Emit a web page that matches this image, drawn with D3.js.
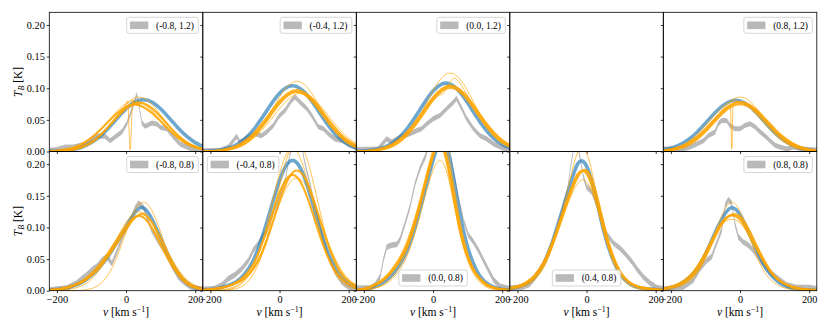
<!DOCTYPE html>
<html><head><meta charset="utf-8">
<script src="https://cdn.jsdelivr.net/npm/d3@7"></script>
<style>body{margin:0;background:#fff}svg{display:block}</style>
</head><body><svg id="c" width="830" height="332"></svg>
<script>
// ---------------- DATA ----------------
const V = [-225,-200,-175,-150,-125,-100,-75,-50,-25,0,25,50,75,100,125,150,175,200,225];
const xTicks = [-200, 0, 200];
const yTicks = [0, 0.05, 0.10, 0.15, 0.20];
const labels = ["(-0.8, 1.2)","(-0.4, 1.2)","(0.0, 1.2)",null,"(0.8, 1.2)","(-0.8, 0.8)","(-0.4, 0.8)","(0.0, 0.8)","(0.4, 0.8)","(0.8, 0.8)"];

// observed band centres [v, T] and half widths
const band_T1 = [[-222,0.002],[-200,0.003],[-176,0.007],[-152,0.007],[-123,0.011],[-104,0.017],[-85,0.024],[-61,0.024],[-46,0.017],[-32,0.023],[-12,0.031],[2,0.044],[16,0.065],[31,0.09],[38,0.07],[46,0.045],[55,0.04],[75,0.045],[90,0.043],[100,0.038],[118,0.036],[137,0.023],[156,0.012],[176,0.007],[195,0.003],[222,0.002]];
const band_T2 = [[-222,0.001],[-170,0.002],[-148,0.007],[-124,0.024],[-115,0.015],[-109,0.016],[-90,0.023],[-71,0.028],[-52,0.025],[-37,0.031],[-18,0.041],[-3,0.055],[16,0.065],[35,0.081],[45,0.086],[59,0.078],[79,0.068],[93,0.057],[112,0.039],[127,0.036],[141,0.028],[160,0.02],[184,0.017],[199,0.012],[222,0.006]];
const band_T3 = [[-222,0.003],[-160,0.004],[-134,0.02],[-120,0.015],[-95,0.023],[-67,0.028],[-47,0.033],[-33,0.036],[-18,0.044],[1,0.052],[20,0.057],[40,0.068],[59,0.078],[68,0.084],[83,0.068],[97,0.052],[117,0.036],[136,0.025],[155,0.02],[175,0.012],[194,0.007],[213,0.003],[222,0.002]];
const band_T5 = [[-222,0.004],[-165,0.004],[-145,0.007],[-125,0.012],[-106,0.017],[-92,0.025],[-72,0.031],[-63,0.044],[-53,0.049],[-39,0.049],[-29,0.041],[-15,0.036],[0,0.036],[14,0.041],[29,0.044],[43,0.039],[58,0.031],[72,0.025],[87,0.017],[101,0.01],[115,0.007],[135,0.004],[154,0.007],[183,0.004],[222,0.002]];
const band_B1 = [[-222,0.001],[-172,0.004],[-143,0.012],[-128,0.019],[-114,0.025],[-95,0.035],[-85,0.038],[-70,0.048],[-56,0.054],[-41,0.043],[-27,0.061],[-8,0.088],[12,0.109],[26,0.13],[36,0.138],[50,0.132],[60,0.117],[74,0.096],[94,0.077],[113,0.061],[132,0.04],[151,0.022],[171,0.012],[190,0.005],[222,0.002]];
const band_B2 = [[-222,0.002],[-190,0.003],[-167,0.009],[-148,0.019],[-129,0.025],[-109,0.035],[-90,0.048],[-76,0.064],[-61,0.075],[-47,0.088],[-37,0.093],[-23,0.117],[-3,0.143],[16,0.174],[30,0.216],[45,0.245],[60,0.24],[74,0.2],[88,0.169],[103,0.132],[122,0.09],[141,0.054],[160,0.03],[180,0.014],[199,0.006],[222,0.002]];
const band_B3 = [[-222,0.004],[-182,0.004],[-168,0.009],[-153,0.022],[-144,0.048],[-134,0.069],[-120,0.072],[-105,0.073],[-95,0.082],[-81,0.106],[-67,0.132],[-52,0.169],[-38,0.193],[-23,0.211],[0,0.25],[25,0.26],[49,0.222],[59,0.19],[73,0.148],[88,0.111],[102,0.088],[117,0.077],[131,0.064],[146,0.048],[160,0.033],[175,0.017],[194,0.007],[213,0.004],[222,0.003]];
const band_B4 = [[-222,0.004],[-190,0.005],[-165,0.01],[-150,0.02],[-125,0.042],[-100,0.075],[-75,0.118],[-55,0.16],[-45,0.2],[-35,0.232],[-28,0.235],[-19,0.211],[-9,0.18],[0,0.164],[15,0.156],[29,0.138],[44,0.117],[58,0.09],[78,0.075],[97,0.067],[111,0.059],[131,0.046],[145,0.035],[164,0.022],[184,0.012],[203,0.005],[222,0.003]];
const band_B5 = [[-222,0.002],[-164,0.006],[-150,0.011],[-135,0.017],[-116,0.035],[-96,0.048],[-82,0.054],[-68,0.075],[-53,0.096],[-43,0.135],[-34,0.144],[-24,0.138],[-15,0.106],[-5,0.085],[9,0.077],[24,0.072],[38,0.064],[58,0.048],[77,0.035],[96,0.025],[115,0.017],[135,0.009],[164,0.005],[202,0.005],[222,0.003]];
const bandHalf = [0.004,0.004,0.004,0,0.004,0.0045,0.0045,0.0045,0.0045,0.0045];

// model curves sampled on V
const blue_T1 = [0.0002,0.0006,0.0016,0.0036,0.0075,0.0141,0.0242,0.0376,0.0528,0.0675,0.0781,0.082,0.0781,0.0675,0.0528,0.0376,0.0242,0.0141,0.0075];
const orA_T1 = [0.0002,0.0006,0.0015,0.0037,0.0079,0.0149,0.0257,0.0397,0.0549,0.0681,0.076,0.076,0.0681,0.0549,0.0397,0.0257,0.0149,0.0079,0.0037];
const orB_T1 = [0.0006,0.0014,0.0033,0.0067,0.0127,0.0218,0.0339,0.0477,0.0609,0.0704,0.074,0.0704,0.0609,0.0477,0.0339,0.0218,0.0127,0.0067,0.0033];
const thin1_T1 = [0.0001,0.0003,0.0009,0.0024,0.0058,0.0125,0.0237,0.0394,0.0577,0.0745,0.0846,0.0846,0.0745,0.0577,0.0394,0.0237,0.0125,0.0058,0.0024];
const thin2_T1 = [0.0004,0.001,0.0025,0.0057,0.0114,0.0206,0.0337,0.0491,0.0644,0.0758,0.08,0.0758,0.0644,0.0491,0.0337,0.0206,0.0114,0.0057,0.0025];
const notch_T1 = [[-225,0.0002],[-200,0.0006],[-175,0.0015],[-150,0.0037],[-125,0.0079],[-100,0.0149],[-75,0.0257],[-50,0.0397],[-25,0.0549],[-5,0.066],[5,0.08],[9,0.03],[12,0.003],[15,0.03],[19,0.082],[25,0.074],[50,0.076],[75,0.0681],[100,0.0549],[125,0.0397],[150,0.0257],[175,0.0149],[200,0.0079],[225,0.0037]];

const blue_T2 = [0.0003,0.0008,0.0021,0.005,0.0106,0.0202,0.0347,0.0537,0.0742,0.092,0.1026,0.1026,0.092,0.0742,0.0537,0.0347,0.0202,0.0106,0.005];
const orA_T2 = [0.0003,0.0007,0.0018,0.0043,0.0088,0.0167,0.0286,0.0444,0.0625,0.0798,0.0923,0.097,0.0923,0.0798,0.0625,0.0444,0.0286,0.0167,0.0088];
const orB_T2 = [0.0001,0.0004,0.0012,0.0029,0.0067,0.0133,0.0243,0.0396,0.0577,0.0757,0.089,0.094,0.089,0.0757,0.0577,0.0396,0.0243,0.0133,0.0067];
const thin1_T2 = [0,0.0002,0.0006,0.0019,0.0049,0.0112,0.0225,0.04,0.0625,0.086,0.1041,0.111,0.1041,0.086,0.0625,0.04,0.0225,0.0112,0.0049];
const thin2_T2 = [0.0002,0.0004,0.0011,0.0027,0.0059,0.0117,0.021,0.0342,0.0506,0.0678,0.0824,0.0909,0.0909,0.0824,0.0678,0.0506,0.0342,0.021,0.0117];

const blue_T3 = [0.0003,0.0008,0.0022,0.0052,0.011,0.021,0.0361,0.0557,0.077,0.0956,0.1066,0.1066,0.0956,0.077,0.0557,0.0361,0.021,0.011,0.0052];
const orA_T3 = [0.0003,0.0008,0.002,0.0046,0.0095,0.0179,0.0307,0.0476,0.067,0.0856,0.099,0.104,0.099,0.0856,0.067,0.0476,0.0307,0.0179,0.0095];
const orB_T3 = [0.0001,0.0005,0.0013,0.0031,0.0072,0.0143,0.0261,0.0425,0.062,0.0813,0.0956,0.101,0.0956,0.0813,0.062,0.0425,0.0261,0.0143,0.0072];
const thin1_T3 = [0,0.0002,0.0007,0.0021,0.0055,0.0125,0.0252,0.0446,0.0698,0.0961,0.1163,0.124,0.1163,0.0961,0.0698,0.0446,0.0252,0.0125,0.0055];
const shoulder_T3 = [[-225,0.0003],[-175,0.002],[-150,0.0046],[-125,0.0095],[-100,0.018],[-75,0.031],[-50,0.048],[-25,0.066],[0,0.08],[15,0.088],[30,0.092],[45,0.105],[60,0.116],[75,0.11],[100,0.088],[125,0.066],[150,0.046],[175,0.029],[200,0.016],[225,0.008]];

const blue_T5 = [0.0023,0.0052,0.0103,0.0185,0.0301,0.0446,0.0597,0.0726,0.08,0.08,0.0726,0.0597,0.0446,0.0301,0.0185,0.0103,0.0052,0.0023,0.001];
const orA_T5 = [0.0015,0.0034,0.0071,0.0134,0.023,0.0357,0.0502,0.0642,0.0743,0.078,0.0743,0.0642,0.0502,0.0357,0.023,0.0134,0.0071,0.0034,0.0015];
const orB_T5 = [0.0009,0.0023,0.0053,0.0107,0.0194,0.0316,0.0461,0.0604,0.071,0.075,0.071,0.0604,0.0461,0.0316,0.0194,0.0107,0.0053,0.0023,0.0009];
const thin1_T5 = [0.0005,0.0015,0.0038,0.0087,0.0175,0.031,0.0484,0.0667,0.0807,0.086,0.0807,0.0667,0.0484,0.031,0.0175,0.0087,0.0038,0.0015,0.0005];
const thin2_T5 = [0.0016,0.0038,0.0082,0.0155,0.0267,0.0413,0.057,0.0708,0.079,0.079,0.0708,0.057,0.0413,0.0267,0.0155,0.0082,0.0038,0.0016,0.0006];
const notch_T5 = [[-225,0.0015],[-200,0.0034],[-175,0.0071],[-150,0.0134],[-125,0.023],[-100,0.0357],[-75,0.0502],[-50,0.0642],[-35,0.071],[-28,0.074],[-24,0.004],[-20,0.075],[0,0.078],[25,0.0743],[50,0.0642],[75,0.0502],[100,0.0357],[125,0.023],[150,0.0134],[175,0.0071],[200,0.0034],[225,0.0015]];

const blue_B1 = [0.001,0.002,0.004,0.008,0.014,0.024,0.038,0.056,0.078,0.101,0.123,0.131,0.113,0.083,0.053,0.028,0.013,0.005,0.002];
const orA_B1 = [0.001,0.002,0.004,0.008,0.014,0.024,0.038,0.056,0.076,0.097,0.115,0.121,0.108,0.082,0.054,0.03,0.014,0.006,0.002];
const orB_B1 = [0.001,0.002,0.005,0.009,0.016,0.027,0.042,0.061,0.082,0.102,0.116,0.116,0.099,0.073,0.047,0.026,0.012,0.005,0.002];
const thin1_B1 = [0,0,0,0.0002,0.0009,0.0034,0.0106,0.0269,0.0553,0.0927,0.1263,0.14,0.1263,0.0927,0.0553,0.0269,0.0106,0.0034,0.0009];
const thin2_B1 = [0.0001,0.0004,0.0013,0.0035,0.0085,0.0181,0.0344,0.0573,0.0839,0.1083,0.123,0.123,0.1083,0.0839,0.0573,0.0344,0.0181,0.0085,0.0035];

const blue_B2 = [0.001,0.002,0.004,0.008,0.014,0.027,0.049,0.085,0.13,0.1745,0.2023,0.2023,0.1745,0.1298,0.0832,0.047,0.024,0.011,0.005];
const orA_B2 = [0.001,0.002,0.004,0.007,0.012,0.02,0.035,0.061,0.099,0.1414,0.1765,0.19,0.1765,0.1414,0.0977,0.059,0.031,0.015,0.007];
const orB_B2 = [0.001,0.002,0.004,0.007,0.013,0.024,0.043,0.075,0.1153,0.155,0.1797,0.1797,0.155,0.1153,0.0739,0.042,0.021,0.01,0.004];
const thin1_B2 = [0,0,0.0002,0.0009,0.0033,0.0103,0.0268,0.0585,0.1076,0.1661,0.2155,0.235,0.2155,0.1661,0.1076,0.0585,0.0268,0.0103,0.0033];
const thin2_B2 = [0,0,0.0004,0.0017,0.0059,0.0164,0.0387,0.0776,0.1307,0.1852,0.2203,0.2203,0.1852,0.1307,0.0776,0.0387,0.0164,0.0059,0.0017];
const thin3_B2 = [0.0001,0.0003,0.001,0.003,0.0078,0.018,0.0361,0.0641,0.1002,0.138,0.167,0.178,0.167,0.138,0.1002,0.0641,0.0361,0.018,0.0078];

const blue_B3 = [0.001,0.002,0.005,0.011,0.021,0.038,0.064,0.104,0.155,0.206,0.236,0.204,0.129,0.069,0.033,0.014,0.006,0.002,0.001];
const orA_B3 = [0.001,0.003,0.007,0.014,0.026,0.044,0.07,0.11,0.162,0.213,0.234,0.184,0.108,0.056,0.027,0.012,0.005,0.002,0.001];
const orB_B3 = [0.001,0.003,0.008,0.016,0.029,0.048,0.076,0.117,0.168,0.216,0.229,0.175,0.102,0.052,0.025,0.011,0.005,0.002,0.001];
const thin1_B3 = [0,0.001,0.003,0.008,0.018,0.035,0.065,0.11,0.17,0.225,0.25,0.2,0.12,0.06,0.025,0.009,0.003,0.001,0];
const thin2_B3 = [0,0.001,0.003,0.007,0.015,0.03,0.055,0.095,0.145,0.19,0.205,0.165,0.098,0.048,0.02,0.007,0.002,0.001,0];

const blue_B4 = [0.003,0.006,0.011,0.022,0.042,0.075,0.118,0.163,0.201,0.197,0.152,0.094,0.051,0.024,0.011,0.005,0.003,0.002,0.001];
const orA_B4 = [0.004,0.007,0.013,0.024,0.044,0.075,0.114,0.153,0.185,0.185,0.148,0.095,0.053,0.026,0.012,0.006,0.004,0.002,0.001];
const orB_B4 = [0.003,0.006,0.011,0.021,0.04,0.07,0.108,0.148,0.18,0.19,0.16,0.105,0.058,0.028,0.013,0.006,0.003,0.002,0.001];
const thin1_B4 = [0.002,0.004,0.008,0.017,0.035,0.067,0.115,0.17,0.22,0.218,0.163,0.096,0.048,0.021,0.008,0.003,0.001,0.001,0];
const thin2_B4 = [0.004,0.008,0.014,0.026,0.046,0.074,0.108,0.143,0.17,0.172,0.142,0.096,0.056,0.029,0.014,0.007,0.004,0.002,0.001];

const blue_B5 = [0.002,0.005,0.01,0.019,0.034,0.058,0.088,0.116,0.131,0.12,0.092,0.062,0.036,0.019,0.009,0.004,0.002,0.001,0];
const orA_B5 = [0.003,0.006,0.011,0.02,0.036,0.06,0.087,0.11,0.119,0.112,0.09,0.064,0.04,0.022,0.012,0.006,0.003,0.002,0.001];
const orB_B5 = [0.002,0.005,0.009,0.017,0.031,0.054,0.082,0.107,0.12,0.117,0.097,0.069,0.043,0.023,0.012,0.006,0.003,0.001,0.001];
const thin1_B5 = [0.001,0.003,0.007,0.014,0.028,0.052,0.087,0.122,0.14,0.125,0.089,0.052,0.026,0.012,0.005,0.002,0.001,0,0];
const thin2_B5 = [0.004,0.007,0.013,0.023,0.039,0.062,0.087,0.106,0.113,0.107,0.088,0.064,0.041,0.024,0.013,0.007,0.004,0.002,0.001];

// ---------------- LAYOUT / STYLE ----------------
const FONT = '"Liberation Serif","Times New Roman",serif';
const L0 = 49.3, T0 = 12.3, PW = 153.5, PH = 139.2;
const XDOM = [-222, 222], YDOM = [0, 0.22];
const BANDC = "#808080", BANDO = 0.55;
const legendLoc = ["ur","ur","ur",null,"ur","ur","ul","lc","lc","ur"];

const onGrid = a => V.map((v, k) => [v, a[k]]);
const panels = [
  {band: band_T1, blue: [blue_T1], thick: [orA_T1, orB_T1], thin: [thin1_T1, thin2_T1], pts: [notch_T1]},
  {band: band_T2, blue: [blue_T2], thick: [orA_T2, orB_T2], thin: [thin1_T2, thin2_T2], pts: []},
  {band: band_T3, blue: [blue_T3], thick: [orA_T3, orB_T3], thin: [thin1_T3], pts: [shoulder_T3]},
  {band: null, blue: [], thick: [], thin: [], pts: []},
  {band: band_T5, blue: [blue_T5], thick: [orA_T5, orB_T5], thin: [thin1_T5, thin2_T5], pts: [notch_T5]},
  {band: band_B1, blue: [blue_B1], thick: [orA_B1, orB_B1], thin: [thin1_B1, thin2_B1], pts: []},
  {band: band_B2, blue: [blue_B2], thick: [orA_B2, orB_B2], thin: [thin1_B2, thin2_B2, thin3_B2], pts: []},
  {band: band_B3, blue: [blue_B3], thick: [orA_B3, orB_B3], thin: [thin1_B3, thin2_B3], pts: []},
  {band: band_B4, blue: [blue_B4], thick: [orA_B4, orB_B4], thin: [thin1_B4, thin2_B4], pts: []},
  {band: band_B5, blue: [blue_B5], thick: [orA_B5, orB_B5], thin: [thin1_B5, thin2_B5], pts: []}
];

const svg = d3.select("#c");
const defs = svg.append("defs");

panels.forEach((p, i) => {
  const row = Math.floor(i / 5), col = i % 5;
  const x0 = L0 + col * PW, y0 = T0 + row * PH;
  const x = d3.scaleLinear().domain(XDOM).range([0, PW]);
  const y = d3.scaleLinear().domain(YDOM).range([PH, 0]);
  const g = svg.append("g").attr("transform", `translate(${x0},${y0})`);
  defs.append("clipPath").attr("id", "cp" + i).append("rect").attr("width", PW).attr("height", PH);
  const c = g.append("g").attr("clip-path", `url(#cp${i})`);

  if (p.band) {
    const h = bandHalf[i];
    c.append("path").datum(p.band)
      .attr("d", d3.area().x(d => x(d[0])).y0(d => y(d[1] - h)).y1(d => y(d[1] + h)))
      .attr("fill", BANDC).attr("fill-opacity", BANDO);
  }
  const ln = d3.line().x(d => x(d[0])).y(d => y(d[1])).curve(d3.curveNatural);
  const lnM = d3.line().x(d => x(d[0])).y(d => y(d[1])).curve(d3.curveMonotoneX);
  p.blue.forEach(a => c.append("path").attr("d", ln(onGrid(a))).attr("fill", "none")
    .attr("stroke", "#1f77b4").attr("stroke-opacity", 0.65).attr("stroke-width", 3.6));
  p.thin.forEach(a => c.append("path").attr("d", ln(onGrid(a))).attr("fill", "none")
    .attr("stroke", "#ffa500").attr("stroke-opacity", 0.75).attr("stroke-width", 0.9));
  p.pts.forEach(a => c.append("path").attr("d", lnM(a)).attr("fill", "none")
    .attr("stroke", "#ffa500").attr("stroke-opacity", 0.75).attr("stroke-width", 0.9));
  p.thick.forEach(a => c.append("path").attr("d", ln(onGrid(a))).attr("fill", "none")
    .attr("stroke", "#ffa500").attr("stroke-opacity", 0.88).attr("stroke-width", 2.2));

  // axes
  const styleAxis = s => {
    s.select(".domain").remove();
    s.selectAll("line").attr("stroke", "#000").attr("stroke-width", 0.8);
    s.selectAll("text").attr("font-size", 10.3).attr("font-family", FONT).attr("fill", "#000");
  };
  g.append("g").call(d3.axisLeft(y).tickValues(yTicks).tickSize(2.5).tickPadding(2)
    .tickFormat(col === 0 ? d3.format(".2f") : "")).call(styleAxis);
  g.append("g").attr("transform", `translate(0,${PH})`)
    .call(d3.axisBottom(x).tickValues(xTicks).tickSize(2.5).tickPadding(2.5)
    .tickFormat(row === 1 ? d3.format("d") : "")).call(styleAxis);

  g.append("rect").attr("width", PW).attr("height", PH).attr("fill", "none")
    .attr("stroke", "#000").attr("stroke-width", 0.8);

  // legend
  if (labels[i]) {
    const lg = g.append("g");
    const t = lg.append("text").attr("font-size", 9.5).attr("font-family", FONT).attr("fill", "#000").text(labels[i]);
    const tw = t.node().getComputedTextLength();
    const bw = 29.3 + tw + 4.3, bh = 16;
    const loc = legendLoc[i];
    let bx, by;
    if (loc === "ur") { bx = PW - 4.5 - bw; by = 5; }
    else if (loc === "ul") { bx = 4.5; by = 5; }
    else { bx = (PW - bw) / 2; by = PH - 4.7 - bh; }
    lg.insert("rect", "text").attr("x", bx).attr("y", by).attr("width", bw).attr("height", bh).attr("rx", 2)
      .attr("fill", "#fff").attr("fill-opacity", 0.8).attr("stroke", "#cccccc").attr("stroke-width", 0.8);
    lg.insert("rect", "text").attr("x", bx + 3.3).attr("y", by + bh / 2 - 3.8).attr("width", 18.3).attr("height", 7.6)
      .attr("fill", BANDC).attr("fill-opacity", BANDO);
    t.attr("x", bx + 29.3).attr("y", by + bh / 2 + 3.3);
  }

  // axis labels
  if (col === 0) {
    const yl = svg.append("text").attr("transform", `translate(22,${y0 + PH / 2}) rotate(-90)`)
      .attr("text-anchor", "middle").attr("font-family", FONT).attr("font-size", 11.5).attr("fill", "#000");
    yl.append("tspan").attr("font-style", "italic").text("T");
    yl.append("tspan").attr("font-style", "italic").attr("font-size", 8).attr("dy", 2.2).text("B");
    yl.append("tspan").attr("dy", -2.2).text(" [K]");
  }
  if (row === 1) {
    const xl = svg.append("text").attr("x", x0 + PW / 2).attr("y", 316)
      .attr("text-anchor", "middle").attr("font-family", FONT).attr("font-size", 11.5).attr("fill", "#000");
    xl.append("tspan").attr("font-style", "italic").text("v");
    xl.append("tspan").text(" [km s");
    xl.append("tspan").attr("font-size", 8).attr("dy", -4.5).text("−1");
    xl.append("tspan").attr("dy", 4.5).text("]");
  }
});
</script></body></html>
